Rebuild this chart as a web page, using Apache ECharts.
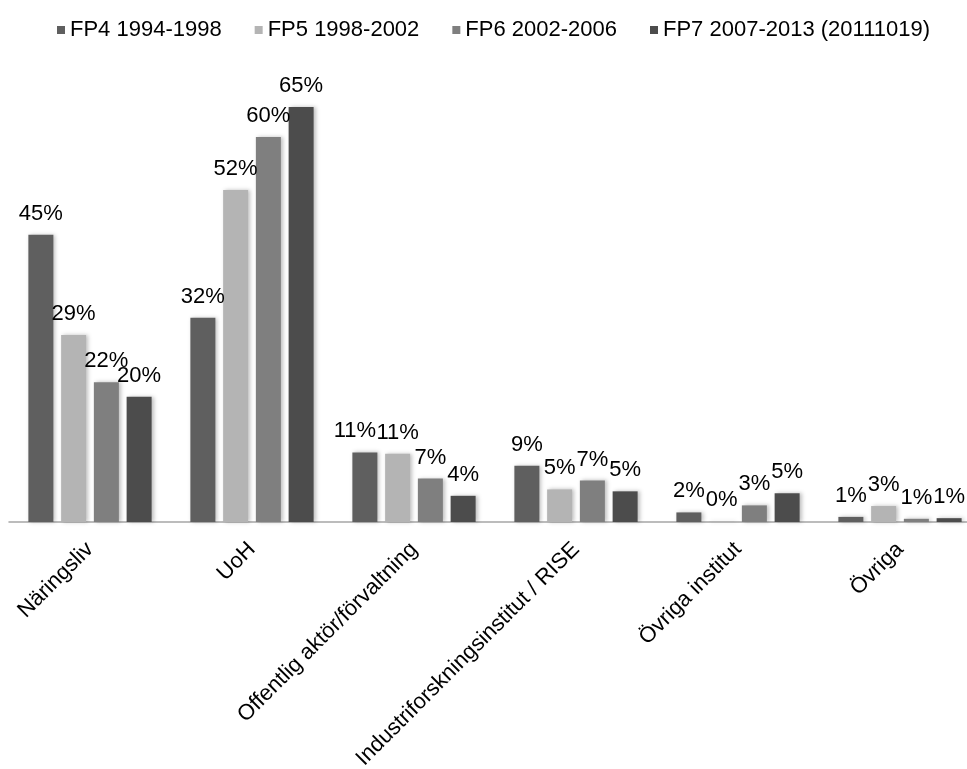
<!DOCTYPE html>
<html>
<head>
<meta charset="utf-8">
<script src="https://cdn.jsdelivr.net/npm/echarts@6/dist/echarts.min.js"></script>
<style>
html, body { margin: 0; padding: 0; background: #ffffff; }
#chart { width: 967px; height: 769px; }
</style>
</head>
<body>
<div id="chart"></div>
<script>
var categories = ['Näringsliv', 'UoH', 'Offentlig aktör/förvaltning', 'Industriforskningsinstitut / RISE', 'Övriga institut', 'Övriga']
var seriesNames = ['FP4 1994-1998', 'FP5 1998-2002', 'FP6 2002-2006', 'FP7 2007-2013 (20111019)']
var fp4 = [45, 32, 10.9, 8.8, 1.5, 0.8]
var fp5 = [29.3, 52, 10.7, 5.1, 0.1, 2.5]
var fp6 = [21.9, 60.3, 6.8, 6.5, 2.6, 0.5]
var fp7 = [19.6, 65, 4.1, 4.8, 4.5, 0.6]
var colors = ['#5f5f5f', '#b4b4b4', '#7f7f7f', '#4c4c4c']

var values = [fp4, fp5, fp6, fp7]

var chart = echarts.init(document.getElementById('chart'))

var series = seriesNames.map(function (name, i) {
    return {
        name: name,
        type: 'bar',
        data: values[i],
        barWidth: 25,
        barGap: '31%',
        itemStyle: {
            color: colors[i],
            shadowColor: 'rgba(0,0,0,0.25)',
            shadowBlur: 4,
            shadowOffsetX: 2,
            shadowOffsetY: 0
        },
        label: {
            show: true,
            position: 'top',
            distance: 10,
            color: '#000000',
            fontFamily: 'Liberation Sans, Arial, sans-serif',
            fontSize: 22,
            formatter: function (p) {
                return Math.round(p.value) + '%'
            }
        }
    }
})
// first "11%" is nudged left in the original so the two labels do not overlap
series[0].labelLayout = function (params) {
    if (params.dataIndex === 2) {
        return { dx: -10 }
    }
}

chart.setOption({
    animation: false,
    color: colors,
    textStyle: {
        fontFamily: 'Liberation Sans, Arial, sans-serif'
    },
    legend: {
        left: 52,
        top: 14,
        width: 910,
        icon: 'rect',
        itemWidth: 8,
        itemHeight: 8,
        itemGap: 33,
        textStyle: {
            fontSize: 22,
            color: '#000000'
        },
        data: seriesNames
    },
    grid: {
        left: 9,
        width: 972,
        top: 75,
        bottom: 247,
        outerBoundsMode: 'none'
    },
    xAxis: {
        type: 'category',
        data: categories,
        axisLine: {
            lineStyle: { color: '#a6a6a6', width: 1.5 }
        },
        axisTick: { show: false },
        axisLabel: {
            rotate: 45,
            interval: 0,
            margin: 24,
            fontSize: 22,
            color: '#000000'
        }
    },
    yAxis: {
        type: 'value',
        min: 0,
        max: 70,
        show: false,
        splitLine: { show: false }
    },
    series: series
})
</script>
</body>
</html>
